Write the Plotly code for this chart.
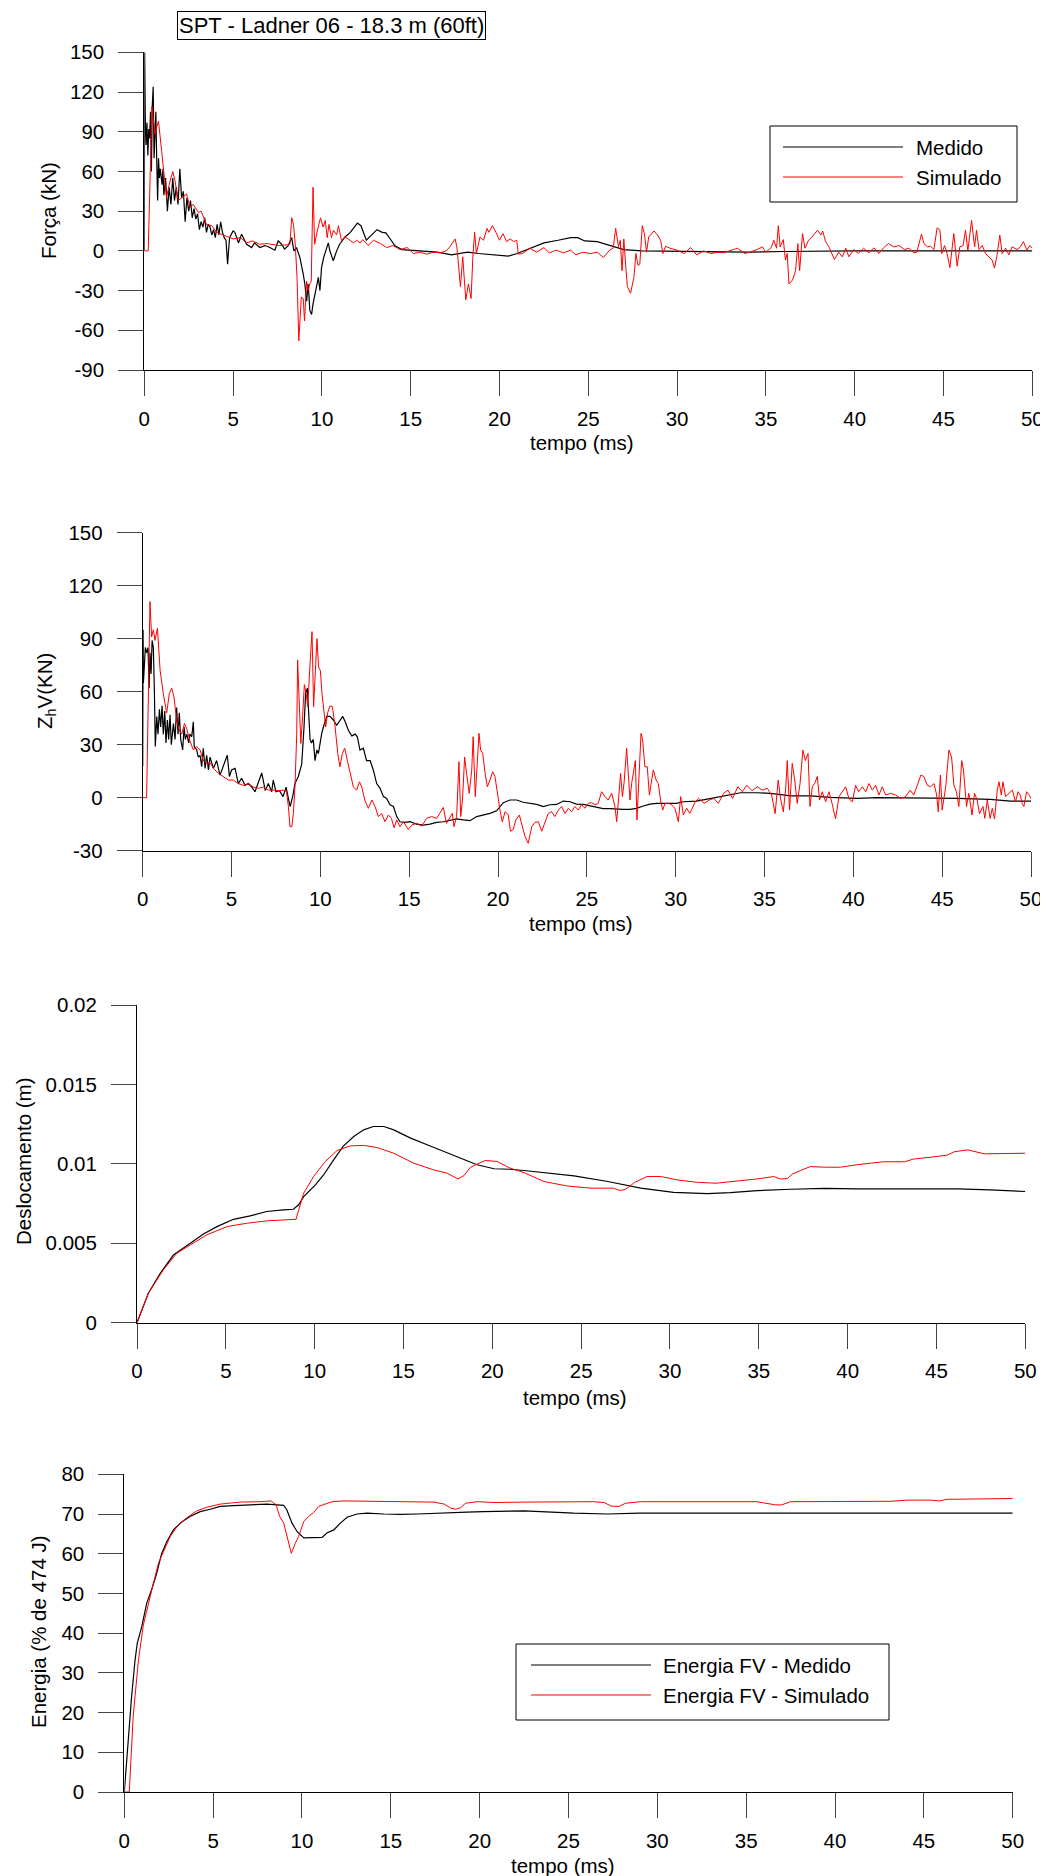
import plotly.graph_objects as go

# page is 1048x1876; the browser body has an 8px margin, so the figure is 1040x1868
OFF = 8
W, H = 1048 - OFF, 1876 - OFF

# ---------------- data (t in ms, value) ----------------
forca_medido = [(0,0),(0.02,150),(0.06,95),(0.1,80),(0.15,97),(0.2,72),(0.25,92),(0.3,85),(0.35,105),(0.4,60),(0.45,110),(0.5,124),(0.55,70),(0.6,100),(0.65,105),(0.7,68),(0.75,38),(0.8,70),(0.85,55),(0.9,62),(1.0,50),(1.05,62),(1.1,42),(1.2,55),(1.3,30),(1.4,48),(1.5,35),(1.6,55),(1.7,38),(1.8,48),(1.9,35),(2.0,62),(2.1,40),(2.2,45),(2.3,22),(2.4,40),(2.5,30),(2.6,38),(2.7,25),(2.8,32),(2.9,24),(3.0,28),(3.1,16),(3.2,22),(3.3,18),(3.4,25),(3.5,14),(3.6,20),(3.7,18),(3.8,12),(3.9,16),(4.0,10),(4.1,20),(4.2,12),(4.3,22),(4.4,14),(4.5,10),(4.6,8),(4.69,-10),(4.8,10),(5.0,15),(5.1,14),(5.3,6),(5.48,12.6),(5.76,5),(6.04,2.5),(6.2,6),(6.5,2.5),(6.8,4),(7.07,2.5),(7.35,0.5),(7.54,7.5),(7.73,5),(7.9,1.3),(8.1,4),(8.3,10),(8.42,0),(8.57,2.5),(8.76,-5),(8.95,-17.6),(9.04,-25),(9.14,-38),(9.23,-25),(9.32,-45),(9.42,-48),(9.5,-40),(9.66,-30),(9.8,-20),(9.89,-30),(9.98,-12.6),(10.1,-5),(10.26,2.5),(10.36,6),(10.45,0),(10.64,-7.5),(10.83,0),(11.0,5),(11.3,10.5),(11.6,14),(12.0,21),(12.2,19),(12.5,8),(12.8,12),(13.1,16),(13.4,14),(13.6,13.6),(13.9,8),(14.1,4),(14.5,1),(15.0,0.5),(15.8,0),(16.5,-1),(17.3,-3),(18.2,-1),(18.8,-2),(19.5,-3),(20.5,-4),(21.0,-2),(21.8,2),(22.5,6),(23.3,8),(24.0,10),(24.4,10),(24.8,7.5),(25.5,7),(26.3,3.5),(27.0,1),(28,0),(30,-0.5),(32,-1),(34,-1),(36,-0.5),(38,0),(40,0),(42,0),(44,0),(46,0),(48,0),(50,0)]

forca_simulado = [(0,0),(0.22,0),(0.43,109),(0.5,100),(0.6,88),(0.66,92),(0.8,98),(0.98,75),(1.16,50),(1.25,40),(1.4,50),(1.6,60),(1.73,53),(1.9,38),(2.1,40),(2.38,43),(2.57,33),(2.76,35),(3.04,29),(3.2,30),(3.5,20),(3.8,19),(4.07,14),(4.35,12.6),(4.63,11),(5.0,9),(5.4,10),(5.76,6),(6.1,7.5),(6.5,5),(6.9,5.5),(7.26,5),(7.6,4),(8.0,4.5),(8.2,5),(8.3,25),(8.4,20),(8.5,5),(8.6,-20),(8.7,-68),(8.84,-35),(8.95,-36),(9.02,-53),(9.14,-23),(9.23,-30),(9.32,-25),(9.4,-23),(9.5,48),(9.59,5),(9.74,15),(9.92,25),(10.07,18),(10.19,23),(10.3,10),(10.4,20),(10.54,10),(10.65,15.6),(10.83,12),(10.93,19),(11.1,8),(11.3,10.5),(11.59,8),(11.77,6),(11.96,8),(12.15,6),(12.3,8.5),(12.6,4),(12.9,8),(13.3,5.5),(13.65,2.5),(14.0,4),(14.4,1),(14.8,2.5),(15.15,-2),(15.5,-1),(15.9,-2.5),(16.3,-1),(16.65,-1.5),(17.0,0),(17.2,3),(17.5,9),(17.6,3),(17.8,-27),(17.93,-4.5),(18.1,-37),(18.25,-25),(18.4,-36),(18.5,-4.5),(18.6,14),(18.7,-2),(18.9,10.5),(19.1,8),(19.3,17),(19.4,14),(19.6,19),(19.8,14),(20.0,8),(20.2,13),(20.4,7),(20.6,9),(20.8,7),(20.97,8),(21.06,-2.5),(21.3,-2),(21.7,2),(22.1,-1),(22.5,2.5),(22.8,-1.5),(23.2,0.5),(23.6,-1.5),(24.0,0.5),(24.3,-3),(24.7,-1),(25.1,-2),(25.5,-1),(25.85,-5),(26.2,0.5),(26.4,2),(26.54,17),(26.7,3),(26.8,8),(26.9,-15),(27.0,9),(27.1,-10),(27.2,-27),(27.38,-32),(27.57,-20),(27.68,-2),(27.8,-11),(27.9,-10),(28.04,19),(28.16,13),(28.28,-1),(28.4,10.5),(28.6,13),(28.7,15),(28.9,12),(29.07,8),(29.2,-2),(29.35,3.5),(29.6,2),(30.0,0.5),(30.4,-2),(30.76,2.5),(31.1,-3),(31.5,0),(31.9,-2),(32.3,-1),(32.6,-1.5),(33.0,0),(33.4,2),(33.8,-2),(34.1,-1),(34.5,1),(34.8,3),(35.0,-1),(35.3,2.5),(35.45,8),(35.6,2),(35.7,19),(35.8,3),(35.98,8.5),(36.1,-7),(36.2,-2),(36.3,-25),(36.5,-22),(36.67,-15),(36.8,5.5),(36.9,-15),(37.06,13),(37.2,2),(37.4,8),(37.6,10.5),(37.9,15.6),(38.1,12),(38.2,15),(38.36,7),(38.55,3),(38.7,-2),(38.86,-6.5),(39.1,-1),(39.3,-4.5),(39.5,2),(39.67,-4.5),(39.95,1),(40.2,-2),(40.5,2),(40.8,-1.5),(41.08,2.3),(41.36,-2),(41.64,2.5),(41.9,5.5),(42.2,3),(42.5,4),(42.8,1),(43.05,2),(43.33,-1.5),(43.5,-1),(43.76,12.6),(43.9,5.5),(44.1,3),(44.27,3.5),(44.46,1),(44.64,17.4),(44.8,15.6),(44.9,-2),(45.06,4),(45.2,-2),(45.36,-12.6),(45.5,2),(45.58,13),(45.77,-11.6),(45.92,3),(46.1,4),(46.24,15.6),(46.37,0),(46.58,23),(46.75,3),(46.86,15.6),(47.0,1),(47.18,4),(47.37,-2),(47.55,-4.5),(47.74,-7),(47.87,-13),(48.0,-4.5),(48.17,12),(48.3,-2),(48.5,2),(48.68,-3),(48.86,3),(49.15,1),(49.33,3),(49.5,7),(49.7,0.5),(49.86,4),(50.0,2)]

zv_medido = [(0,18),(0.02,95),(0.04,65),(0.15,85),(0.23,82),(0.3,85),(0.36,62),(0.41,82),(0.47,70),(0.53,89),(0.6,85),(0.66,59),(0.71,29),(0.79,46),(0.86,36),(0.94,50),(1.01,40),(1.09,52),(1.16,36),(1.24,49),(1.31,31),(1.39,44),(1.46,33),(1.54,47),(1.61,30),(1.73,42),(1.82,33),(1.91,51),(1.99,36),(2.06,48),(2.14,33),(2.25,27),(2.33,40),(2.4,33),(2.48,36),(2.59,31),(2.66,36),(2.76,34.5),(2.85,43),(2.9,29),(3.04,27),(3.13,23),(3.23,24),(3.32,17.5),(3.41,28),(3.51,16.6),(3.6,24),(3.7,15.7),(3.79,23),(3.98,16.6),(4.16,21),(4.35,12.8),(4.54,17.5),(4.76,24),(4.88,12),(5.0,15.7),(5.2,16.6),(5.38,8),(5.57,11),(5.76,7),(5.95,8),(6.14,6),(6.32,3.4),(6.5,8),(6.7,14),(6.9,4),(7.07,8),(7.26,3.4),(7.35,10),(7.5,3.4),(7.7,4),(7.9,0.6),(8.07,6),(8.2,-0.4),(8.3,-5),(8.44,0.6),(8.57,8),(8.76,12),(8.95,19),(9.08,40),(9.17,59),(9.27,62),(9.36,48),(9.42,33),(9.5,31),(9.6,33),(9.7,21),(9.8,27),(9.89,25),(10.0,33),(10.07,36),(10.17,40),(10.36,46),(10.54,46),(10.73,44),(10.92,41),(11.1,44),(11.26,46),(11.4,43),(11.58,38),(11.77,35),(11.96,36),(12.08,34.5),(12.23,27),(12.42,28),(12.6,21),(12.8,21),(12.98,15.7),(13.17,8),(13.36,5.3),(13.55,0.6),(13.73,-0.4),(13.92,-4),(14.11,-5),(14.3,-10.7),(14.48,-13.6),(14.76,-14),(15.05,-13.6),(15.42,-15),(15.8,-15.5),(16.17,-15),(16.55,-14),(16.92,-13.6),(17.3,-12.6),(17.67,-12),(18.05,-12.6),(18.42,-13),(18.8,-10.7),(19.17,-9.8),(19.55,-8.9),(19.92,-7.4),(20.3,-2.8),(20.67,-1.3),(21.05,-1.3),(21.42,-2.6),(21.8,-3.2),(22.17,-3.8),(22.55,-5),(22.92,-4),(23.3,-3.8),(23.67,-1.9),(24.05,-2.3),(24.42,-3.6),(24.8,-3.8),(25.17,-4.7),(25.55,-5.7),(25.92,-6.2),(26.3,-6.2),(26.67,-6.6),(27.05,-6.6),(27.42,-6.6),(27.8,-6),(28.17,-4.7),(28.55,-3.6),(28.92,-3.2),(29.3,-3.2),(29.67,-2.8),(30.05,-3.2),(30.42,-2.3),(30.8,-1.9),(31.17,-1.9),(32.0,-0.4),(33.1,1.5),(33.65,2.8),(34.6,2.8),(35.3,2.5),(36.5,1),(37.6,1),(38.7,0.2),(40.2,-0.4),(41.35,0),(42.5,0),(44.0,0),(45.85,-0.4),(47.7,-1),(48.85,-1.9),(50,-1.9)]

zv_simulado = [(0,0),(0.22,0),(0.41,111),(0.5,91),(0.6,95),(0.69,89),(0.83,96),(0.98,72),(1.16,59),(1.35,48),(1.5,59),(1.63,62),(1.76,57),(1.91,44),(2.06,38),(2.2,36),(2.35,42),(2.48,39),(2.66,32),(2.85,27),(3.04,29),(3.23,27),(3.41,21),(3.6,19.4),(3.79,20),(3.98,16.6),(4.26,13.8),(4.54,12),(4.82,10),(5.1,10),(5.38,8),(5.67,7),(5.95,8),(6.23,6),(6.5,5.3),(6.8,6),(7.07,4.3),(7.35,4.3),(7.6,4),(7.9,4.3),(8.1,3.4),(8.2,-5),(8.29,-16.4),(8.39,-16.4),(8.48,-9),(8.57,6),(8.67,36),(8.72,78),(8.82,51.5),(8.9,30.7),(9.0,46),(9.1,64),(9.2,59),(9.29,51.5),(9.42,76),(9.53,94),(9.62,51.5),(9.72,70),(9.81,90),(9.9,74),(10.0,72),(10.09,59),(10.2,48),(10.3,40),(10.41,48),(10.54,52),(10.68,51.5),(10.83,40),(10.98,25),(11.1,17.5),(11.24,25),(11.37,28),(11.52,21),(11.67,13.8),(11.86,6),(12.04,4.3),(12.2,9),(12.33,6),(12.5,-1.3),(12.7,-6),(12.9,-1.3),(13.08,-5),(13.26,-10.7),(13.45,-9),(13.64,-13.6),(13.83,-9.8),(14.0,-11.7),(14.15,-17),(14.3,-12.6),(14.48,-16.4),(14.67,-13.6),(14.95,-18),(15.14,-15.5),(15.42,-14.5),(15.7,-16),(15.98,-11.7),(16.27,-10.7),(16.55,-11.7),(16.73,-8.9),(16.92,-5.5),(17.1,-14.5),(17.3,-10.7),(17.43,-8.9),(17.52,-16.4),(17.67,-10.7),(17.8,20.4),(17.9,-10.7),(18.0,-1.3),(18.12,23),(18.23,13.8),(18.38,2.5),(18.52,15.7),(18.6,34.5),(18.72,0.6),(18.83,17.5),(18.93,36.4),(19.02,27),(19.14,25),(19.27,13.8),(19.4,6.2),(19.55,10),(19.7,14.7),(19.83,11.9),(19.96,2.5),(20.11,-7),(20.24,-13.6),(20.4,-7.9),(20.58,-9.8),(20.7,-19),(20.86,-18),(21.0,-12.6),(21.2,-9.8),(21.33,-15.5),(21.52,-22),(21.7,-25.8),(21.9,-16.4),(22.08,-14),(22.27,-13.6),(22.46,-19),(22.64,-13.6),(22.83,-8.9),(23.02,-7.9),(23.2,-10.7),(23.4,-7),(23.58,-5),(23.77,-8.9),(23.96,-6),(24.14,-7.9),(24.33,-5),(24.52,-7),(24.7,-4),(24.9,-6),(25.08,-3.2),(25.27,-2.8),(25.46,-4),(25.64,-3.2),(25.83,3.4),(26.02,0.6),(26.2,-1.3),(26.4,2.5),(26.58,-5),(26.68,-13.6),(26.8,0.6),(26.9,13.8),(27.0,0.6),(27.1,9),(27.24,28),(27.35,8),(27.43,-1.3),(27.52,8),(27.62,13.8),(27.73,21),(27.82,-12.6),(27.95,21),(28.05,36.4),(28.14,32.6),(28.27,17.5),(28.4,17.5),(28.52,1.5),(28.65,10),(28.74,15.7),(28.9,10),(29.02,8),(29.15,-1.3),(29.27,-7),(29.4,-3.2),(29.6,-3.2),(29.77,-4),(29.96,-6),(30.15,-13.6),(30.28,0.6),(30.43,-9.8),(30.62,-6),(30.8,-8.9),(31.1,-2.3),(31.3,-0.4),(31.6,-3.2),(31.9,-1.3),(32.15,-0.4),(32.4,-3.2),(32.7,2.5),(32.95,4.3),(33.2,-0.4),(33.5,6.2),(33.75,3.4),(34.0,7),(34.3,4),(34.6,6.2),(34.87,4.3),(35.15,5.3),(35.4,1.5),(35.6,-9),(35.77,10),(35.9,-0.4),(36.06,-8),(36.2,6.2),(36.28,21),(36.41,-7),(36.56,19.4),(36.7,10),(36.84,-3.2),(37.0,8),(37.16,27),(37.3,21),(37.45,25),(37.56,-5),(37.69,6.2),(37.82,8),(37.97,12),(38.1,-1.3),(38.25,3.4),(38.44,-2.3),(38.63,3.4),(38.8,-3.2),(39.0,-12),(39.19,0.6),(39.38,3.4),(39.57,6.2),(39.75,-0.4),(39.94,-2.3),(40.13,7),(40.3,3.4),(40.5,6.2),(40.7,3.4),(40.88,8),(41.07,4.3),(41.25,7),(41.44,1.5),(41.63,6.2),(41.82,1.5),(42.1,2.5),(42.38,1.5),(42.66,-0.4),(42.94,0.6),(43.2,4.3),(43.4,1.5),(43.6,7),(43.8,12.8),(43.97,12),(44.16,7),(44.35,6.2),(44.54,8),(44.69,1.5),(44.78,-8),(44.9,12.8),(45.0,-7),(45.2,6.2),(45.38,27),(45.53,23),(45.66,7),(45.8,3.4),(45.94,-5),(46.1,21),(46.2,15.7),(46.37,-5),(46.5,2.5),(46.68,-9.8),(46.82,2.5),(46.97,-1.3),(47.1,-9),(47.3,-5),(47.4,-11.7),(47.54,-1.3),(47.7,-11.7),(47.82,-6),(47.95,-12),(48.1,4.3),(48.2,9),(48.33,1.5),(48.42,9),(48.57,0.6),(48.76,2.5),(48.95,4.3),(49.13,-2.3),(49.27,3.4),(49.4,1.5),(49.5,-3.2),(49.6,-5),(49.75,3.4),(49.9,1.5),(50,-0.4)]

desl_medido = [(0,0),(0.64,0.00185),(1.3,0.0031),(2.05,0.00426),(3.0,0.0050),(3.74,0.00559),(4.5,0.00605),(5.43,0.00651),(6.37,0.00672),(7.3,0.0070),(8.25,0.0071),(8.8,0.00714),(9.1,0.00742),(9.38,0.00794),(10.04,0.00868),(10.5,0.0093),(11.07,0.01025),(11.6,0.0111),(12.2,0.01172),(12.76,0.01214),(13.3,0.01235),(13.9,0.01235),(14.45,0.01214),(15.4,0.01162),(16.33,0.0112),(17.27,0.01078),(18.2,0.01036),(19.14,0.00994),(20.1,0.00969),(21.0,0.00966),(21.78,0.00958),(24.6,0.00924),(26.5,0.00889),(28.35,0.00847),(30.2,0.00821),(32.1,0.00813),(33.4,0.00819),(34.9,0.00832),(36.8,0.0084),(38.7,0.00845),(40.5,0.00842),(42.4,0.00842),(44.3,0.00842),(46.2,0.00842),(48.0,0.00836),(50.0,0.00826)]

desl_simulado = [(0,0),(0.64,0.00185),(1.48,0.00332),(2.24,0.00437),(3.0,0.0049),(3.93,0.00553),(5.06,0.00605),(6.18,0.00626),(7.3,0.00641),(8.44,0.00651),(8.95,0.00651),(9.38,0.00815),(9.94,0.0092),(10.6,0.01015),(11.26,0.01084),(12.0,0.01113),(12.76,0.01116),(13.5,0.01103),(14.45,0.01067),(15.58,0.01004),(16.7,0.00962),(17.46,0.00941),(18.06,0.00905),(18.4,0.00926),(18.78,0.00979),(19.14,0.00998),(19.6,0.01021),(20.28,0.01015),(21.0,0.00973),(21.78,0.00945),(22.9,0.00889),(24.2,0.00861),(25.5,0.00847),(26.8,0.00847),(27.2,0.00832),(27.5,0.0084),(28.0,0.00882),(28.7,0.0092),(29.5,0.0092),(30.4,0.00899),(31.5,0.00884),(32.6,0.00878),(33.8,0.00891),(34.9,0.00905),(35.85,0.0092),(36.2,0.00905),(36.6,0.00907),(36.9,0.00937),(37.35,0.00958),(37.9,0.00983),(38.7,0.00979),(39.6,0.00979),(40.5,0.00994),(42.0,0.01013),(43.2,0.01013),(43.7,0.0103),(44.7,0.01042),(45.6,0.01055),(46.0,0.01076),(46.75,0.01088),(47.7,0.01063),(49.0,0.01065),(50.0,0.01067)]

energia_medido = [(0,0),(0.23,14.8),(0.41,24),(0.6,33),(0.73,37.5),(0.98,41.6),(1.26,47.5),(1.54,51),(1.82,55),(2.1,60),(2.39,63),(2.76,66),(3.23,68),(3.7,69.4),(4.27,70.6),(4.83,71.2),(5.4,71.9),(6.15,72.1),(7.09,72.3),(8.03,72.5),(8.97,72.2),(9.15,71),(9.44,67.7),(9.72,65.6),(10.1,64),(10.47,64.1),(10.85,64.1),(11.13,64.1),(11.4,65.2),(11.79,66),(12.16,67.7),(12.54,69.2),(13.1,70),(13.67,70.2),(14.6,70),(15.55,69.9),(16.5,70),(17.4,70.2),(18.4,70.4),(19.3,70.5),(20.2,70.6),(21.7,70.7),(22.5,70.8),(25.3,70.2),(27.2,70),(29.0,70.2),(37.5,70.2),(50.0,70.2)]

energia_simulado = [(0,0),(0.28,0),(0.5,19),(0.79,33),(1.07,42),(1.35,47.5),(1.64,52.6),(1.92,57.6),(2.2,60.5),(2.58,64.3),(2.95,66.7),(3.5,69),(4.08,70.8),(4.64,71.7),(5.4,72.5),(6.5,73),(7.65,73.1),(8.25,73.3),(8.55,72.3),(8.74,69.4),(8.97,67.7),(9.19,63.9),(9.4,60.1),(9.62,62.6),(9.81,64.3),(10.1,68.1),(10.38,69.4),(10.66,70.4),(10.94,71.9),(11.3,72.5),(11.7,73.1),(12.35,73.3),(13.67,73.2),(14.98,73),(16.3,73),(17.43,73),(18.0,72.5),(18.36,71.5),(18.65,71.2),(18.93,71.6),(19.2,72.7),(19.87,73.1),(20.8,72.9),(21.75,73),(22.5,73),(26.4,73.1),(27.0,72.9),(27.4,72),(27.84,71.9),(28.2,72.7),(29.06,73.1),(35.6,73.1),(36.28,72.7),(36.65,72.3),(37.0,72.3),(37.5,73.1),(43.1,73.2),(44.06,73.5),(45.38,73.5),(45.9,73.3),(46.3,73.7),(50.0,73.9)]

x_ticks = [0, 5, 10, 15, 20, 25, 30, 35, 40, 45, 50]
panel_titles_y = ["Força (kN)", "Z<sub>h</sub>V(KN)", "Deslocamento (m)", "Energia (% de 474 J)"]
y_ranges = [(-90, 150), (-30, 150), (0, 0.02), (0, 80)]
y_ticks = [list(range(-90, 151, 30)), list(range(-30, 151, 30)),
           [0, 0.005, 0.01, 0.015, 0.02], list(range(0, 81, 10))]
y_ticktext = [[str(v) for v in y_ticks[0]], [str(v) for v in y_ticks[1]],
              ["0", "0.005", "0.01", "0.015", "0.02"], [str(v) for v in y_ticks[3]]]
legend1_labels = ["Medido", "Simulado"]
legend4_labels = ["Energia FV - Medido", "Energia FV - Simulado"]
chart_title = "SPT - Ladner 06 - 18.3 m (60ft)"
x_title = "tempo (ms)"

# ---------------- layout geometry (page pixels) ----------------
boxes = [(144.3, 1032.3, 52.3, 370.0),
         (142.7, 1031.0, 532.7, 850.7),
         (137.0, 1025.3, 1005.0, 1322.7),
         (124.3, 1012.7, 1474.3, 1792.0)]
ylabel_pos = [(48, 211), (46, 691), (23, 1162), (38, 1632)]
xlabel_y = [443, 924, 1397, 1865]

def PX(x):
    return (x - OFF) / W

def PY(y):
    return 1 - (y - OFF) / H

FONT = "Liberation Sans, Arial, sans-serif"
FS = 20.5
BLACK = "#000000"
RED = "#ff0000"

fig = go.Figure()
series = [(forca_medido, forca_simulado), (zv_medido, zv_simulado),
          (desl_medido, desl_simulado), (energia_medido, energia_simulado)]
names = [("Medido", "Simulado")] * 3 + [("Energia FV - Medido", "Energia FV - Simulado")]

for i, (med, sim) in enumerate(series):
    xa = "x" if i == 0 else f"x{i+1}"
    ya = "y" if i == 0 else f"y{i+1}"
    fig.add_trace(go.Scatter(x=[p[0] for p in med], y=[p[1] for p in med], mode="lines",
                             line=dict(color=BLACK, width=1.2), name=names[i][0],
                             xaxis=xa, yaxis=ya, showlegend=False))
    fig.add_trace(go.Scatter(x=[p[0] for p in sim], y=[p[1] for p in sim], mode="lines",
                             line=dict(color=RED, width=1), name=names[i][1],
                             xaxis=xa, yaxis=ya, showlegend=False))

axis_common = dict(showgrid=False, zeroline=False, showline=True, linecolor=BLACK, linewidth=1,
                   ticks="outside", ticklen=25, tickwidth=1, tickcolor="#444444",
                   automargin=False,
                   tickfont=dict(family=FONT, size=FS, color=BLACK))
layout = dict(width=W, height=H, autosize=False, margin=dict(l=0, r=0, t=0, b=0, pad=0),
              paper_bgcolor="white", plot_bgcolor="white", showlegend=False,
              font=dict(family=FONT, size=FS, color=BLACK))
for i, (xl, xr, yt, yb) in enumerate(boxes):
    xk = "xaxis" if i == 0 else f"xaxis{i+1}"
    yk = "yaxis" if i == 0 else f"yaxis{i+1}"
    ya = "y" if i == 0 else f"y{i+1}"
    xa = "x" if i == 0 else f"x{i+1}"
    layout[xk] = dict(axis_common, domain=[PX(xl), PX(xr)], range=[0, 50], anchor=ya,
                      tickmode="array", tickvals=x_ticks, ticklabelstandoff=5)
    layout[yk] = dict(axis_common, domain=[PY(yb), PY(yt)], range=list(y_ranges[i]), anchor=xa,
                      tickmode="array", tickvals=y_ticks[i], ticktext=y_ticktext[i],
                      ticklabelstandoff=10)
fig.update_layout(**layout)

annotations = []
shapes = []
for i in range(4):
    xl, xr, yt, yb = boxes[i]
    annotations.append(dict(text=x_title, x=PX((xl + xr) / 2 - 6), y=PY(xlabel_y[i]),
                            xref="paper", yref="paper", showarrow=False,
                            xanchor="center", yanchor="middle",
                            font=dict(family=FONT, size=FS, color=BLACK)))
    lx, ly = ylabel_pos[i]
    annotations.append(dict(text=panel_titles_y[i], x=PX(lx), y=PY(ly), xref="paper", yref="paper",
                            showarrow=False, textangle=-90, xanchor="center", yanchor="middle",
                            font=dict(family=FONT, size=FS, color=BLACK)))

annotations.append(dict(text=chart_title, x=PX(331), y=PY(25.5), xref="paper", yref="paper",
                        showarrow=False, xanchor="center", yanchor="middle",
                        bordercolor=BLACK, borderwidth=1, borderpad=1, bgcolor="white",
                        font=dict(family=FONT, size=22, color=BLACK)))

def add_legend(box, line_x0, line_x1, text_x, rows, labels):
    bx0, bx1, by0, by1 = box
    shapes.append(dict(type="rect", xref="paper", yref="paper", x0=PX(bx0), x1=PX(bx1),
                       y0=PY(by1), y1=PY(by0), line=dict(color=BLACK, width=1),
                       fillcolor="white", layer="above"))
    for ry, lab, col in zip(rows, labels, [BLACK, RED]):
        shapes.append(dict(type="line", xref="paper", yref="paper", x0=PX(line_x0), x1=PX(line_x1),
                           y0=PY(ry), y1=PY(ry), line=dict(color=col, width=1), layer="above"))
        annotations.append(dict(text=lab, x=PX(text_x), y=PY(ry), xref="paper", yref="paper",
                                showarrow=False, xanchor="left", yanchor="middle",
                                font=dict(family=FONT, size=FS, color=BLACK)))

add_legend((770, 1017, 126, 202), 783, 903, 914, [147, 177], legend1_labels)
add_legend((516, 889, 1644, 1720), 531, 651, 661, [1665, 1695], legend4_labels)

fig.update_layout(annotations=annotations, shapes=shapes)
fig.write_html("out.html")
